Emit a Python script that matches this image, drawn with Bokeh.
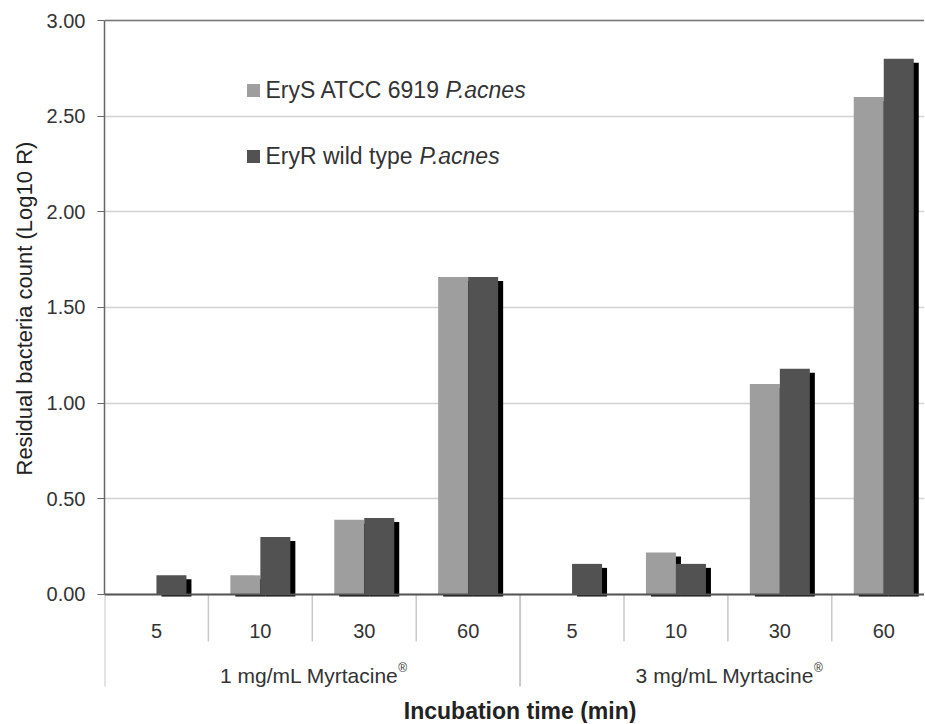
from bokeh.plotting import figure
from bokeh.models import Range1d, FixedTicker, Span, ColumnDataSource, PrintfTickFormatter, Title
from bokeh.core.properties import value
from bokeh.embed import file_html
from bokeh.resources import INLINE

# ---- data ----
times = ["5", "10", "30", "60"]
groups = ["1 mg/mL Myrtacine", "3 mg/mL Myrtacine"]
erys = [0.0, 0.10, 0.39, 1.66, 0.0, 0.22, 1.10, 2.60]
eryr = [0.10, 0.30, 0.40, 1.66, 0.16, 0.16, 1.18, 2.80]
series_names = ["EryS ATCC 6919", "EryR wild type"]
species = "P.acnes"
y_ticks = [0.0, 0.5, 1.0, 1.5, 2.0, 2.5, 3.0]
x_title = "Incubation time (min)"
y_title = "Residual bacteria count (Log10 R)"

# ---- geometry (pixels) ----
W, H = 924, 723
LEFT, TOP = 104, 18
PX_SLOT = 103.9
PX_UNIT = 191.33
FONT = "Liberation Sans"
LIGHT, DARK = "#9e9e9e", "#525252"

n = len(times) * len(groups)
y_end = 3.0 + 2 / PX_UNIT
y_start = y_end - (H - TOP) / PX_UNIT

p = figure(width=W, height=H, output_backend="svg", toolbar_location=None,
           x_range=Range1d(0, (W - LEFT) / PX_SLOT), y_range=Range1d(y_start, y_end),
           x_axis_location=None, min_border_left=LEFT, min_border_right=0,
           min_border_top=TOP, min_border_bottom=0)
p.outline_line_color = None
p.background_fill_color = "white"
p.xgrid.visible = False
p.ygrid.ticker = FixedTicker(ticks=y_ticks)
p.ygrid.grid_line_color = "#d2d2d2"
p.ygrid.grid_line_width = 1.5

ax = p.yaxis[0]
ax.ticker = FixedTicker(ticks=y_ticks)
ax.formatter = PrintfTickFormatter(format="%.2f")
ax.bounds = (0, 3)
ax.axis_line_color = "#666666"
ax.axis_line_width = 1.5
ax.major_tick_line_color = "#666666"
ax.major_tick_out = 7
ax.major_tick_in = 0
ax.minor_tick_line_color = None
ax.major_label_standoff = 12
ax.major_label_text_font = FONT
ax.major_label_text_font_size = "20px"
ax.major_label_text_color = "#333333"

# y-axis title placed as a side title so it can be centred on the 0..3 span
p.add_layout(Title(text=y_title, align="left", offset=248,
                   text_font=FONT, text_font_size="22px", text_font_style="normal",
                   text_color="#222222", standoff=13), "left")

# ---- bars with drop shadows ----
bw = 30 / PX_SLOT
sdx = 5 / PX_SLOT
sdy_top = 4 / PX_UNIT
sdy_bot = 2 / PX_UNIT
centers = [i + 0.5 for i in range(n)]

def shadow_tops(vals):
    return [v - sdy_top if v > 0 else -sdy_bot for v in vals]

src = ColumnDataSource(dict(
    xl=[c - bw / 2 for c in centers], xd=[c + bw / 2 for c in centers],
    xls=[c - bw / 2 + sdx for c in centers], xds=[c + bw / 2 + sdx for c in centers],
    erys=erys, eryr=eryr, erys_s=shadow_tops(erys), eryr_s=shadow_tops(eryr)))

p.vbar(x="xls", top="erys_s", bottom=-sdy_bot, width=bw, source=src, fill_color="black", line_color=None)
p.vbar(x="xl", top="erys", bottom=0, width=bw, source=src, fill_color=LIGHT, line_color=None)
p.vbar(x="xds", top="eryr_s", bottom=-sdy_bot, width=bw, source=src, fill_color="black", line_color=None)
p.vbar(x="xd", top="eryr", bottom=0, width=bw, source=src, fill_color=DARK, line_color=None)

# baseline and top border
p.add_layout(Span(location=0, dimension="width", line_color="#555555", line_width=2))
p.add_layout(Span(location=3, dimension="width", line_color="#777777", line_width=1.3))

# ---- categorical x axis drawn below baseline ----
short_y = -(642 - 595) / PX_UNIT
long_y = -(687 - 595) / PX_UNIT
per = len(times)
sx, sy = [], []
lx, ly = [], []
for b in range(n + 1):
    if b % per == 0:
        lx.append(b); ly.append(long_y)
    else:
        sx.append(b); sy.append(short_y)
p.segment(x0=sx, y0=0, x1=sx, y1=sy, line_color="#c8c8c8", line_width=1.5)
p.segment(x0=lx, y0=0, x1=lx, y1=ly, line_color="#c8c8c8", line_width=2)

p.text(x=centers, y=-(632 - 595) / PX_UNIT, text=times * len(groups),
       text_align="center", text_baseline="middle", text_font=value(FONT),
       text_font_size="20px", text_color="#333333")

gcent = [per * g + per / 2 for g in range(len(groups))]
p.text(x=gcent, y=-(676 - 595) / PX_UNIT, text=groups, x_offset=-3,
       text_align="center", text_baseline="middle", text_font=value(FONT),
       text_font_size="21px", text_color="#333333")
p.text(x=gcent, y=-(676 - 595) / PX_UNIT, text=["®"] * len(groups), x_offset=86, y_offset=-7,
       text_align="left", text_baseline="middle", text_font=value(FONT),
       text_font_size="12px", text_color="#333333")

p.text(x=[n / 2], y=-(712 - 595) / PX_UNIT, text=[x_title],
       text_align="center", text_baseline="middle", text_font=value(FONT),
       text_font_size="23px", text_font_style="bold", text_color="#222222")

# ---- legend (manual, to allow italic species name) ----
leg_x = (254 - 105) / PX_SLOT
leg_y = [(595 - 91) / PX_UNIT, (595 - 157) / PX_UNIT]
p.scatter(x=[leg_x, leg_x], y=leg_y, marker="square", size=13,
          fill_color=[LIGHT, DARK], line_color=None)
p.text(x=[leg_x, leg_x], y=leg_y, text=series_names, x_offset=12,
       text_align="left", text_baseline="middle", text_font=value(FONT),
       text_font_size="23px", text_color="#333333")
p.text(x=[leg_x, leg_x], y=leg_y, text=[species, species], x_offset=[192, 166],
       text_align="left", text_baseline="middle", text_font=value(FONT),
       text_font_size="23px", text_font_style="italic", text_color="#333333")

open("out.html", "w").write(file_html(p, INLINE))
